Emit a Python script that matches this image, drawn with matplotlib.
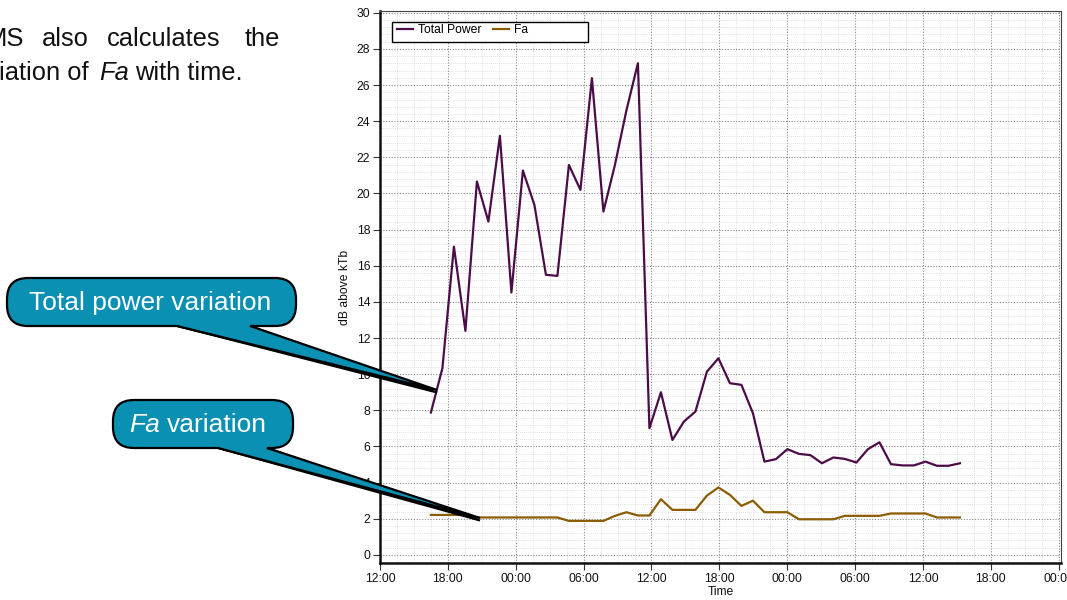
import matplotlib
matplotlib.use("Agg")
import matplotlib.pyplot as plt
import matplotlib.dates as mdates
from matplotlib.path import Path
from matplotlib.patches import PathPatch, Polygon, Rectangle
from matplotlib.ticker import MultipleLocator
import pandas as pd

plt.rcParams['font.family'] = ['Liberation Sans', 'DejaVu Sans']

# ---- data ----
start_time = "2010-01-01 16:30"
n_points = 47
step = "61min"
total_power = [7.88, 10.33, 17.06, 12.4, 20.66, 18.45, 23.19, 14.52, 21.27, 19.37,
               15.5, 15.44, 21.58, 20.2, 26.38, 19.0, 21.58, 24.6, 27.21, 7.01,
               9.0, 6.36, 7.38, 7.93, 10.14, 10.88, 9.5, 9.41, 7.84, 5.16,
               5.3, 5.85, 5.59, 5.52, 5.07, 5.39, 5.31, 5.11, 5.85, 6.23,
               5.02, 4.95, 4.95, 5.16, 4.93, 4.93, 5.07]
fa = [2.21, 2.21, 2.21, 2.21, 2.07, 2.07, 2.07, 2.07, 2.07, 2.07,
      2.07, 2.07, 1.88, 1.88, 1.88, 1.88, 2.16, 2.36, 2.18, 2.18,
      3.08, 2.49, 2.49, 2.49, 3.28, 3.73, 3.32, 2.71, 3.0, 2.36,
      2.36, 2.36, 1.97, 1.97, 1.97, 1.97, 2.16, 2.16, 2.16, 2.16,
      2.29, 2.29, 2.29, 2.29, 2.07, 2.07, 2.07]
times = pd.date_range(start_time, periods=n_points, freq=step)
x_start = pd.Timestamp("2010-01-01 12:00")
x_end = x_start + pd.Timedelta(hours=60.2)

series_names = ["Total Power", "Fa"]
colors = ["#4b0c48", "#8c5c00"]

fig = plt.figure(figsize=(10.67, 6.0), dpi=100)
ax = fig.add_axes([380/1067, 1-563/600, 681/1067, 552/600])

ax.plot(times, total_power, color=colors[0], lw=1.6, label=series_names[0], zorder=3)
ax.plot(times, fa, color=colors[1], lw=1.6, label=series_names[1], zorder=3)

ax.set_xlim(x_start, x_end)
ax.set_ylim(-0.45, 30.1)
ax.xaxis.set_major_locator(MultipleLocator(0.25))
ax.xaxis.set_minor_locator(MultipleLocator(0.0625))
ax.xaxis.set_major_formatter(mdates.DateFormatter('%H:%M'))
ax.yaxis.set_major_locator(MultipleLocator(2))
ax.yaxis.set_minor_locator(MultipleLocator(0.4))

ax.set_axisbelow(True)
ax.grid(which='major', linestyle=(0, (1, 1.5)), color='#8a8a8a', lw=0.8)
ax.grid(which='minor', linestyle=(0, (1, 1.5)), color='#d8d8d8', lw=0.6)

ax.tick_params(which='major', direction='out', length=5, width=0.8, colors='#333333',
               labelsize=8.7, pad=2, labelcolor='#111111')
ax.tick_params(which='minor', length=0)

for s in ['left', 'bottom']:
    ax.spines[s].set_linewidth(1.8)
    ax.spines[s].set_color('#111111')
for s in ['top', 'right']:
    ax.spines[s].set_linewidth(0.8)
    ax.spines[s].set_color('#444444')

ax.set_ylabel("dB above kTb", fontsize=8.7, labelpad=4, color='#111111')
ax.set_xlabel("Time", fontsize=8.7, labelpad=1, color='#111111')

# legend with manual frame
ax.add_patch(Rectangle((12/681, 1-(42-11)/552), 196/681, 20/552, transform=ax.transAxes,
                       facecolor='white', edgecolor='black', lw=1.0, zorder=4, clip_on=False))
ax.legend(loc='upper left', bbox_to_anchor=(14/681, 1-(22-11)/552 + 0.002), ncol=2,
          frameon=False, fontsize=8.7, handlelength=1.3, handletextpad=0.4,
          columnspacing=1.0, borderaxespad=0, borderpad=0.25).set_zorder(5)

# ---- overlay for slide text and callouts (pixel coordinates) ----
ov = fig.add_axes([0, 0, 1, 1])
ov.set_xlim(0, 1067)
ov.set_ylim(600, 0)
ov.axis('off')

fs_slide = 18.4
ov.text(-14, 45.7, "MS", fontsize=fs_slide, va='baseline', ha='left', color='#111111')
ov.text(42, 45.7, "also", fontsize=fs_slide, va='baseline', ha='left', color='#111111')
ov.text(107, 45.7, "calculates", fontsize=fs_slide, va='baseline', ha='left', color='#111111')
ov.text(245, 45.7, "the", fontsize=fs_slide, va='baseline', ha='left', color='#111111')
ov.text(-1, 80, "iation of", fontsize=fs_slide, va='baseline', ha='left', color='#111111')
ov.text(99, 80, "Fa", fontsize=fs_slide, va='baseline', ha='left', style='italic', color='#111111')
ov.text(135, 80, "with time.", fontsize=fs_slide, va='baseline', ha='left', color='#111111')

teal = '#0a90b2'


def callout(x0, x1, y0, y1, r, bx0, bx1, tx, ty):
    verts = [(x0 + r, y0), (x1 - r, y0), (x1, y0), (x1, y0 + r), (x1, y1 - r),
             (x1, y1), (x1 - r, y1), (bx1, y1), (tx, ty), (bx0, y1), (x0 + r, y1),
             (x0, y1), (x0, y1 - r), (x0, y0 + r), (x0, y0), (x0 + r, y0), (x0 + r, y0)]
    codes = [Path.MOVETO, Path.LINETO, Path.CURVE3, Path.CURVE3, Path.LINETO,
             Path.CURVE3, Path.CURVE3, Path.LINETO, Path.LINETO, Path.LINETO, Path.LINETO,
             Path.CURVE3, Path.CURVE3, Path.LINETO, Path.CURVE3, Path.CURVE3, Path.CLOSEPOLY]
    # shadow of the tail
    ov.add_patch(Polygon([(bx0, y1), (tx, ty + 2.5), (bx1, y1)], closed=True,
                         facecolor='black', edgecolor='black', lw=1.5, zorder=9))
    ov.add_patch(PathPatch(Path(verts, codes), facecolor=teal, edgecolor='black',
                           lw=1.6, zorder=10))


callout(7, 296, 278, 326, 21, 177, 250, 437, 390)
ov.text(150, 303, "Total power variation", fontsize=19, color='white',
        ha='center', va='center', zorder=11)

callout(113, 293, 400, 448, 21, 218, 267, 480, 518)
ov.text(129, 425, "Fa", fontsize=19, color='white', style='italic',
        ha='left', va='center', zorder=11)
ov.text(167, 425, "variation", fontsize=19, color='white',
        ha='left', va='center', zorder=11)

fig.savefig("out.png", dpi=100)
